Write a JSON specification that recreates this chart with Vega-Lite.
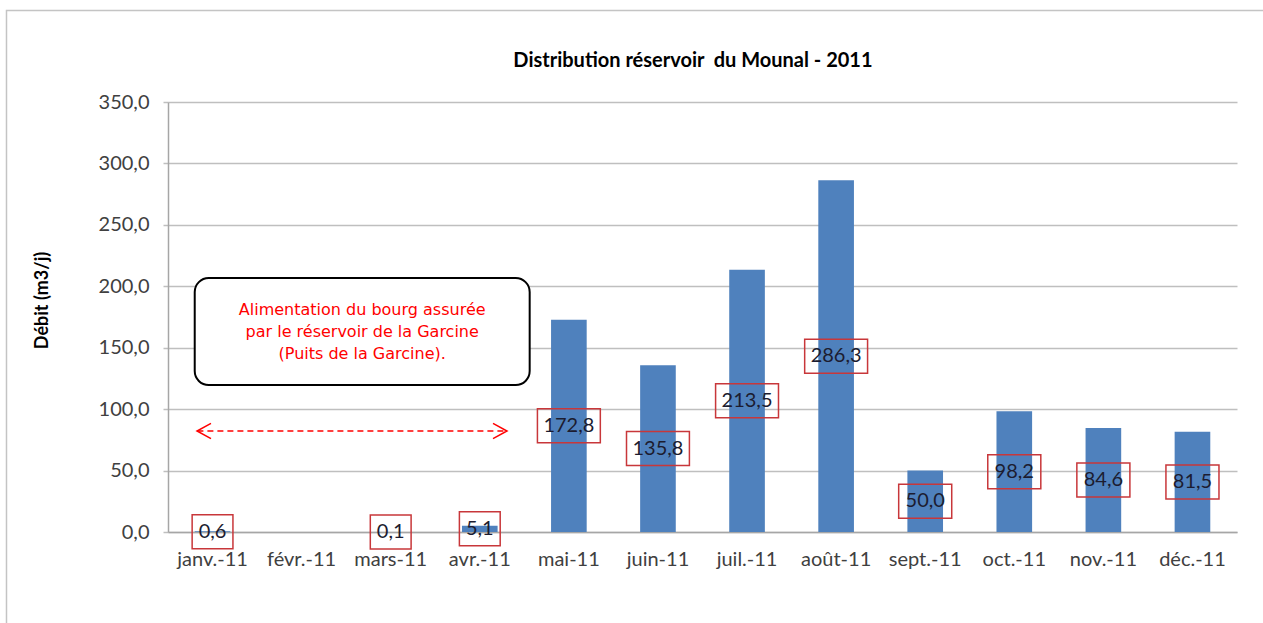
{
  "$schema": "https://vega.github.io/schema/vega-lite/v6.json",
  "width": 1069,
  "height": 430,
  "autosize": {"type": "none"},
  "padding": {"left": 168, "top": 102, "right": 26, "bottom": 91},
  "background": "white",
  "config": {
    "view": {"stroke": null},
    "font": "Lato",
    "locale": {"number": {"decimal": ",", "thousands": " ", "grouping": [3], "currency": ["", " €"]}}
  },
  "data": {
    "values": [
      {"mois": "janv.-11", "v": 0.6},
      {"mois": "mars-11", "v": 0.1},
      {"mois": "avr.-11", "v": 5.1},
      {"mois": "mai-11", "v": 172.8},
      {"mois": "juin-11", "v": 135.8},
      {"mois": "juil.-11", "v": 213.5},
      {"mois": "août-11", "v": 286.3},
      {"mois": "sept.-11", "v": 50.0},
      {"mois": "oct.-11", "v": 98.2},
      {"mois": "nov.-11", "v": 84.6},
      {"mois": "déc.-11", "v": 81.5}
    ]
  },
  "resolve": {"scale": {"x": "independent"}},
  "layer": [
    {
      "encoding": {
        "x": {
          "field": "mois",
          "type": "nominal",
          "scale": {
            "domain": ["janv.-11", "févr.-11", "mars-11", "avr.-11", "mai-11", "juin-11", "juil.-11", "août-11", "sept.-11", "oct.-11", "nov.-11", "déc.-11"],
            "paddingInner": 0.6,
            "paddingOuter": 0.3
          },
          "axis": {
            "title": null,
            "labelAngle": 0,
            "labelFont": "Lato",
            "labelFontSize": 20,
            "labelColor": "#404040",
            "labelPadding": 17,
            "ticks": false,
            "domainColor": "#A6A6A6",
            "domainWidth": 1.5,
            "grid": false
          }
        }
      },
      "layer": [
        {
          "mark": {"type": "bar", "color": "#4F81BD"},
          "encoding": {
            "y": {
              "field": "v",
              "type": "quantitative",
              "scale": {"domain": [0, 350], "nice": false},
              "axis": {
                "title": "Débit (m3/j)",
                "titleFont": "Lato",
                "titleFontSize": 18,
                "titleFontWeight": "bold",
                "titleColor": "#000000",
                "titleX": -117,
                "titleY": 198,
                "titleAngle": -90,
                "titleAlign": "center",
                "titleBaseline": "bottom",
                "values": [0, 50, 100, 150, 200, 250, 300, 350],
                "format": ".1f",
                "labelFont": "Lato",
                "labelFontSize": 20,
                "labelColor": "#404040",
                "labelPadding": 14,
                "tickSize": 5,
                "tickColor": "#BFBFBF",
                "tickWidth": 1.5,
                "domainColor": "#A6A6A6",
                "domainWidth": 1.5,
                "grid": true,
                "gridColor": "#BFBFBF",
                "gridWidth": 1.5
              }
            }
          }
        },
        {
          "transform": [
            {"calculate": "datum.v / 2", "as": "mid"},
            {"calculate": "length(format(datum.v, '.1f'))", "as": "len"}
          ],
          "mark": {"type": "point", "filled": false, "opacity": 1, "stroke": "#C8373A", "strokeWidth": 1.5, "size": 1156},
          "encoding": {
            "y": {"field": "mid", "type": "quantitative"},
            "shape": {
              "field": "len",
              "type": "ordinal",
              "scale": {"domain": [3, 4, 5], "range": ["M-1.2,-1H1.2V1H-1.2Z", "M-1.56,-1H1.56V1H-1.56Z", "M-1.85,-1H1.85V1H-1.85Z"]},
              "legend": null
            }
          }
        },
        {
          "transform": [{"calculate": "datum.v / 2", "as": "mid"}],
          "mark": {"type": "text", "font": "Lato", "fontSize": 20, "color": "#1C1C30", "baseline": "middle", "align": "center"},
          "encoding": {
            "y": {"field": "mid", "type": "quantitative"},
            "text": {"field": "v", "type": "quantitative", "format": ".1f"}
          }
        }
      ]
    },
    {
      "data": {"values": [{}]},
      "layer": [
        {
          "mark": {"type": "rect", "fill": null, "fillOpacity": 0, "stroke": "#C4C4C4", "strokeWidth": 1.5, "clip": false},
          "encoding": {
            "x": {"datum": -1.813, "type": "quantitative", "scale": {"domain": [0, 12], "nice": false, "zero": false}, "axis": null},
            "x2": {"datum": 14},
            "y": {"datum": 424.5, "type": "quantitative"},
            "y2": {"datum": -100}
          }
        },
        {
          "mark": {"type": "text", "font": "Lato", "fontSize": 20, "fontWeight": "bold", "color": "#000000", "align": "center", "baseline": "middle"},
          "encoding": {
            "x": {"datum": 5.893, "type": "quantitative", "axis": null},
            "y": {"datum": 383.4, "type": "quantitative"},
            "text": {"value": "Distribution réservoir\u00a0 du Mounal - 2011"}
          }
        },
        {
          "mark": {"type": "rect", "fill": "white", "stroke": "#000000", "strokeWidth": 2, "cornerRadius": 14},
          "encoding": {
            "x": {"datum": 0.3, "type": "quantitative", "axis": null},
            "x2": {"datum": 4.06},
            "y": {"datum": 119.6, "type": "quantitative"},
            "y2": {"datum": 206.7}
          }
        },
        {
          "mark": {"type": "text", "font": "DejaVu Sans", "fontSize": 16, "color": "#FF0000", "align": "center", "baseline": "middle", "lineBreak": "\n", "lineHeight": 22},
          "encoding": {
            "x": {"datum": 2.18, "type": "quantitative", "axis": null},
            "y": {"datum": 180.7, "type": "quantitative"},
            "text": {"value": "Alimentation du bourg assurée\npar le réservoir de la Garcine\n(Puits de la Garcine)."}
          }
        },
        {
          "mark": {"type": "rule", "color": "#FF0000", "strokeWidth": 1.5, "strokeDash": [6, 4]},
          "encoding": {
            "x": {"datum": 0.33, "type": "quantitative", "axis": null},
            "x2": {"datum": 3.8},
            "y": {"datum": 82.2, "type": "quantitative"}
          }
        },
        {
          "mark": {"type": "point", "filled": false, "opacity": 1, "stroke": "#FF0000", "strokeWidth": 1.5, "size": 196, "shape": "M1,-1.1L-1,0L1,1.1"},
          "encoding": {
            "x": {"datum": 0.404, "type": "quantitative", "axis": null},
            "y": {"datum": 82.2, "type": "quantitative"}
          }
        },
        {
          "mark": {"type": "point", "filled": false, "opacity": 1, "stroke": "#FF0000", "strokeWidth": 1.5, "size": 196, "shape": "M-1,-1.1L1,0L-1,1.1"},
          "encoding": {
            "x": {"datum": 3.727, "type": "quantitative", "axis": null},
            "y": {"datum": 82.2, "type": "quantitative"}
          }
        }
      ]
    }
  ]
}
